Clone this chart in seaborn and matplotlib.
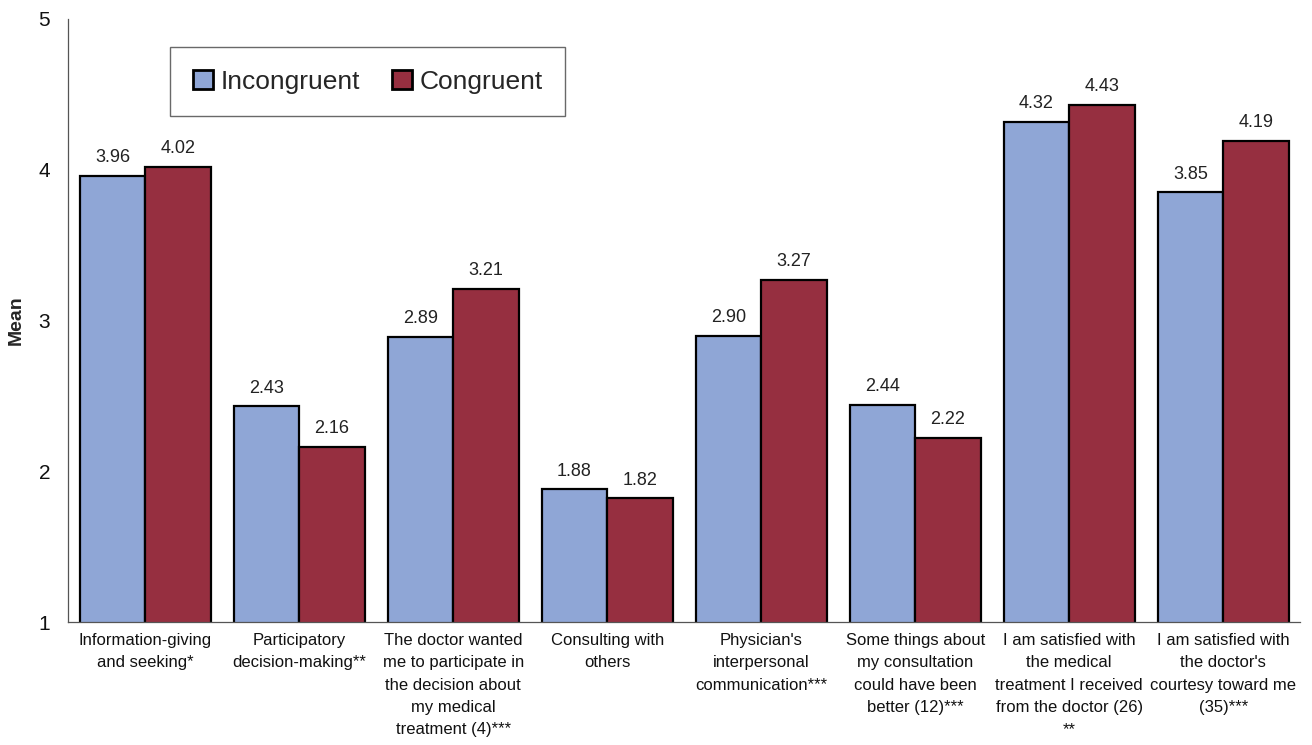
import matplotlib
matplotlib.use("Agg")
import matplotlib.pyplot as plt
import seaborn as sns
import pandas as pd
import numpy as np
from matplotlib.ticker import FixedLocator

categories = [
    "Information-giving\nand seeking*",
    "Participatory\ndecision-making**",
    "The doctor wanted\nme to participate in\nthe decision about\nmy medical\ntreatment (4)***",
    "Consulting with\nothers",
    "Physician's\ninterpersonal\ncommunication***",
    "Some things about\nmy consultation\ncould have been\nbetter (12)***",
    "I am satisfied with\nthe medical\ntreatment I received\nfrom the doctor (26)\n**",
    "I am satisfied with\nthe doctor's\ncourtesy toward me\n(35)***",
]
incongruent = [3.96, 2.43, 2.89, 1.88, 2.90, 2.44, 4.32, 3.85]
congruent = [4.02, 2.16, 3.21, 1.82, 3.27, 2.22, 4.43, 4.19]
groups = ["Incongruent", "Congruent"]
colors = ["#8fa6d6", "#962f40"]

df = pd.DataFrame({
    "cat": categories * 2,
    "group": [groups[0]] * len(categories) + [groups[1]] * len(categories),
    "mean": incongruent + congruent,
})

sns.set_style("white")
plt.rcParams["font.family"] = ["Liberation Sans", "DejaVu Sans"]

fig = plt.figure(figsize=(13.12, 7.45), dpi=100)
ax = fig.add_axes([0.052, 0.165, 0.939, 0.8095])

sns.barplot(data=df, x="cat", y="mean", hue="group", hue_order=groups,
            palette=colors, width=0.85, gap=0, edgecolor="black",
            linewidth=1.6, ax=ax, saturation=1, errorbar=None)

for cont in ax.containers:
    ax.bar_label(cont, fmt="%.2f", padding=7, fontsize=13, color="#222222")

ax.set_ylim(1, 5)
ax.set_xlim(-0.5, len(categories) - 0.5)
ax.set_yticks([1, 2, 3, 4, 5])
ax.tick_params(axis="y", labelsize=15, length=5, width=0.8, colors="#333333", pad=8)
ax.tick_params(axis="y", labelcolor="#111111")
ax.tick_params(axis="x", which="major", length=0, pad=8, labelsize=12, labelcolor="#111111")
ax.xaxis.set_minor_locator(FixedLocator(np.arange(-0.5, len(categories), 1.0)))
ax.tick_params(axis="x", which="minor", length=6, width=0.8, colors="#333333")
for lab in ax.get_xticklabels():
    lab.set_linespacing(1.6)
    lab.set_va("top")

ax.set_xlabel("")
ax.set_ylabel("Mean", fontsize=14, fontweight="bold", labelpad=10)

for side in ["top", "right"]:
    ax.spines[side].set_visible(False)
for side in ["left", "bottom"]:
    ax.spines[side].set_color("#555555")
    ax.spines[side].set_linewidth(0.9)

leg = ax.legend(loc="upper left", bbox_to_anchor=(0.083, 0.953), ncol=2,
                fontsize=19, frameon=True, fancybox=False, edgecolor="#444444",
                handlelength=0.75, handleheight=0.75, handletextpad=0.3,
                columnspacing=1.2, borderpad=0.85, borderaxespad=0, title=None)
leg.get_frame().set_linewidth(1.0)
for h in leg.legend_handles:
    h.set_edgecolor("black")
    h.set_linewidth(2.0)

fig.savefig("out.png", dpi=100, facecolor="white")
